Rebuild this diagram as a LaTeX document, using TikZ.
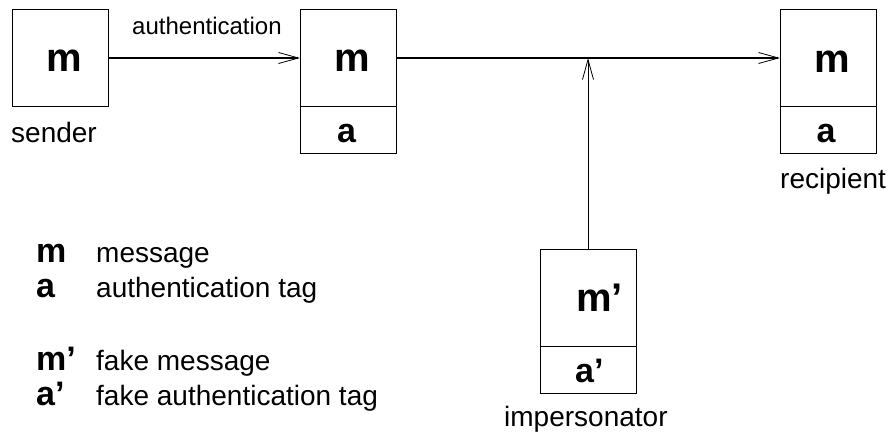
\documentclass[tikz,border=0pt]{standalone}
\usepackage{fontspec}
\setmainfont{Liberation Sans}
\usetikzlibrary{arrows.meta}
\begin{document}
\begin{tikzpicture}[x=1pt,y=-1pt,
  box/.style={draw,line width=1pt,minimum width=96pt,inner sep=0pt,outer sep=0pt},
  arr/.style={line width=1pt,-{Straight Barb[length=20pt,width=11pt,line width=0.8pt]}},
  bigm/.style={anchor=base,inner sep=0pt,font=\fontsize{40}{44}\selectfont\bfseries},
  biga/.style={anchor=base,inner sep=0pt,font=\fontsize{34}{38}\selectfont\bfseries},
  lbl/.style={anchor=base west,inner sep=0pt,font=\fontsize{28}{32}\selectfont},
  small/.style={anchor=base west,inner sep=0pt,font=\fontsize{24}{28}\selectfont},
  leg/.style={anchor=base west,inner sep=0pt,font=\fontsize{34}{38}\selectfont\bfseries}]
\useasboundingbox (0,0) rectangle (893,436);
% boxes
\node[box,minimum height=96pt] (s) at (60,58) {};
\node[box,minimum height=96pt] (mid) at (348,58) {};
\node[box,minimum height=47pt] (mida) at (348,129.5) {};
\node[box,minimum height=96pt] (rec) at (828,58) {};
\node[box,minimum height=47pt] (reca) at (828,129.5) {};
\node[box,minimum height=97pt] (imp) at (588,297.5) {};
\node[box,minimum height=47pt] (impa) at (588,369.5) {};
% box contents
\node[bigm] (t1) at (64,71) {m};
\node[bigm] (t2) at (352,71) {m};
\node[biga] (t3) at (346.5,142) {a};
\node[bigm] (t4) at (832,72) {m};
\node[biga] (t5) at (826,142) {a};
\node[bigm,anchor=base west] (t6) at (576,311) {m’};
\node[biga,anchor=base west] (t7) at (575,382) {a’};
% labels
\node[lbl] (l1) at (11,142) {sender};
\node[small] (l2) at (132,35) {authentication};
\node[lbl] (l3) at (780,188) {recipient};
\node[lbl] (l4) at (504,426) {impersonator};
% legend
\node[leg] (g1) at (36,262) {m};
\node[lbl] (d1) at (96,262) {message};
\node[leg] (g2) at (36,297) {a};
\node[lbl] (d2) at (96,297) {authentication tag};
\node[leg] (g3) at (36,370) {m’};
\node[lbl] (d3) at (96,370) {fake message};
\node[leg] (g4) at (36,405) {a’};
\node[lbl] (d4) at (96,405) {fake authentication tag};
% connectors
\coordinate (j) at (588,58);
\draw[arr] (s.east) -- (mid.west);
\draw[arr] (mid.east) -- (rec.west);
\draw[arr] (imp.north) -- (j);
\end{tikzpicture}
\end{document}
